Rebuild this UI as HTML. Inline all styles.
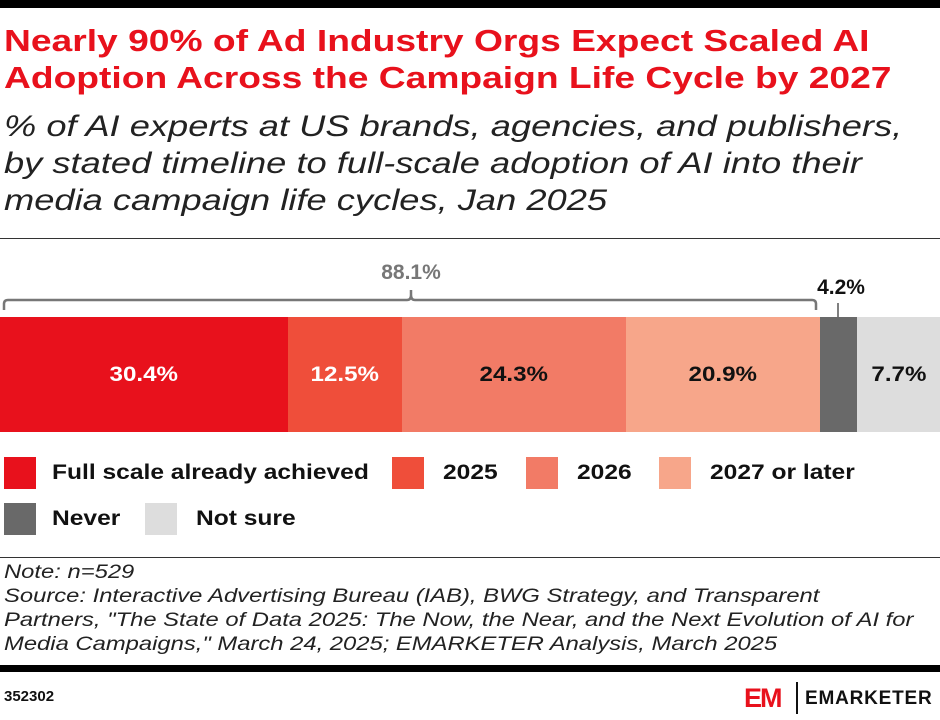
<!DOCTYPE html>
<html><head><meta charset="utf-8"><style>
body{margin:0;width:940px;height:720px;background:#fff;font-family:"Liberation Sans",sans-serif;position:relative;overflow:hidden}
.a{position:absolute}
.x{transform-origin:0 0;white-space:nowrap}
.t{left:4px;top:22px;font-size:31px;font-weight:bold;color:#E8111C;line-height:37px;transform:scaleX(1.2)}
.s{left:4px;top:108px;font-size:29.5px;font-style:italic;color:#222;line-height:37px;transform:scaleX(1.23)}
.seg{position:absolute;top:317px;height:115px;font-size:21px;font-weight:bold;display:flex;align-items:center;justify-content:center}
.seg span{display:inline-block;transform:scaleX(1.15)}
.lg{position:absolute;font-size:21px;font-weight:bold;color:#111;transform:scaleX(1.17);transform-origin:0 0;white-space:nowrap}
.sw{position:absolute;width:32px;height:32px}
.n{left:4px;top:560px;font-size:19.5px;font-style:italic;color:#222;line-height:24px;transform:scaleX(1.22)}
</style></head><body>
<div class="a" style="left:0;top:0;width:940px;height:8px;background:#000"></div>
<div class="a x t">Nearly 90% of Ad Industry Orgs Expect Scaled AI<br>Adoption Across the Campaign Life Cycle by 2027</div>
<div class="a x s">% of AI experts at US brands, agencies, and publishers,<br>by stated timeline to full-scale adoption of AI into their<br>media campaign life cycles, Jan 2025</div>
<div class="a" style="left:0;top:238px;width:940px;height:1px;background:#333"></div>
<svg class="a" style="left:0;top:0" width="940" height="320">
<path d="M4,310 V304 Q4,300 8,300 H407 Q411,300 411,295 V290 M411,295 Q411,300 415,300 H812 Q816,300 816,304 V310" fill="none" stroke="#777" stroke-width="2.5"/>
<line x1="838" y1="303" x2="838" y2="317" stroke="#555" stroke-width="1.5"/>
<text x="411" y="279" font-size="21" font-weight="bold" fill="#777" text-anchor="middle" font-family="Liberation Sans">88.1%</text>
<text x="841" y="294" font-size="21" font-weight="bold" fill="#111" text-anchor="middle" font-family="Liberation Sans">4.2%</text>
</svg>
<div class="seg" style="left:0;width:288px;background:#E8111C;color:#fff"><span>30.4%</span></div>
<div class="seg" style="left:288px;width:114px;background:#EF4E3A;color:#fff"><span>12.5%</span></div>
<div class="seg" style="left:402px;width:224px;background:#F27B66;color:#111"><span>24.3%</span></div>
<div class="seg" style="left:626px;width:194px;background:#F7A68A;color:#111"><span>20.9%</span></div>
<div class="seg" style="left:820px;width:37px;background:#696969"></div>
<div class="seg" style="left:857px;width:83px;background:#DDDDDD;color:#111"><span>7.7%</span></div>
<div class="sw" style="left:4px;top:457px;background:#E8111C"></div><div class="lg" style="left:52px;top:461px">Full scale already achieved</div>
<div class="sw" style="left:392px;top:457px;background:#EF4E3A"></div><div class="lg" style="left:443px;top:461px">2025</div>
<div class="sw" style="left:526px;top:457px;background:#F27B66"></div><div class="lg" style="left:577px;top:461px">2026</div>
<div class="sw" style="left:659px;top:457px;background:#F7A68A"></div><div class="lg" style="left:710px;top:461px">2027 or later</div>
<div class="sw" style="left:4px;top:503px;background:#696969"></div><div class="lg" style="left:52px;top:507px">Never</div>
<div class="sw" style="left:145px;top:503px;background:#DDDDDD"></div><div class="lg" style="left:196px;top:507px">Not sure</div>
<div class="a" style="left:0;top:557px;width:940px;height:1px;background:#333"></div>
<div class="a x n">Note: n=529<br>Source: Interactive Advertising Bureau (IAB), BWG Strategy, and Transparent<br>Partners, "The State of Data 2025: The Now, the Near, and the Next Evolution of AI for<br>Media Campaigns," March 24, 2025; EMARKETER Analysis, March 2025</div>
<div class="a" style="left:0;top:665px;width:940px;height:7px;background:#000"></div>
<div class="a" style="left:4px;top:688px;font-size:15px;font-weight:bold;color:#111">352302</div>
<div class="a" style="left:744px;top:683px;font-size:27px;font-weight:bold;color:#E8111C;letter-spacing:-2px;line-height:30px">EM</div>
<div class="a" style="left:796px;top:682px;width:1.5px;height:32px;background:#111"></div>
<div class="a" style="left:805px;top:688px;font-size:19px;font-weight:bold;color:#111;letter-spacing:0.8px">EMARKETER</div>
</body></html>
